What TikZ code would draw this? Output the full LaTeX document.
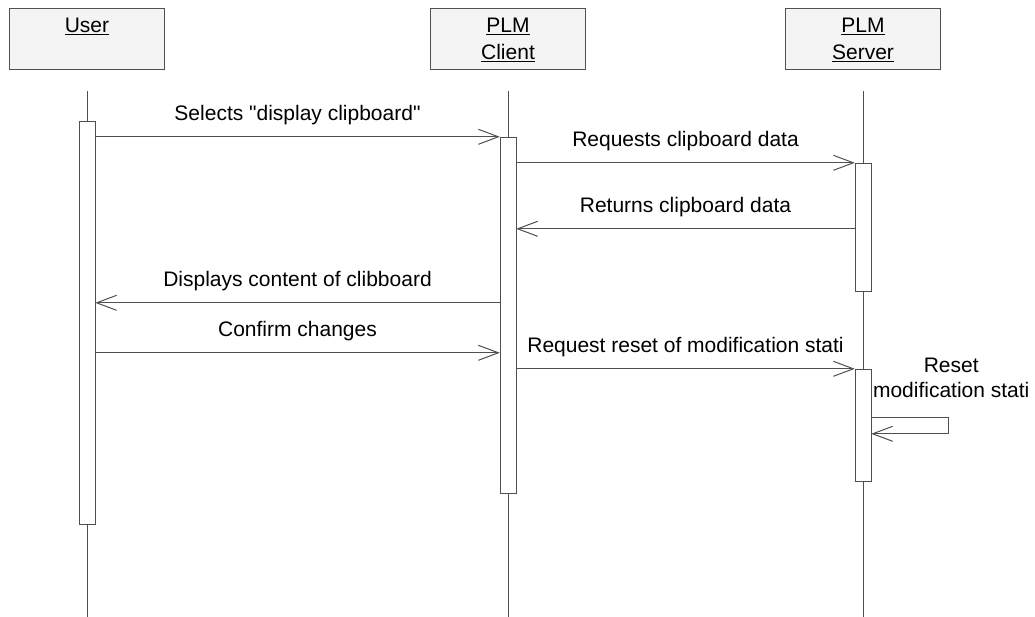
\documentclass[tikz,border=0pt]{standalone}
\usepackage{fontspec}
\setmainfont{Liberation Sans}
\usepackage{xcolor}
\usepackage{tikz}
\usetikzlibrary{calc}
\usetikzlibrary{backgrounds}
\usetikzlibrary{arrows.meta}
\definecolor{umlline}{HTML}{505050}
\definecolor{umlhead}{HTML}{F4F4F4}

\begin{document}
\begin{tikzpicture}[x=1pt, y=-1pt, font=\fontsize{21}{27}\selectfont]
        \tikzstyle{head} = [rectangle, draw=umlline, fill=umlhead, minimum width=155pt, minimum height=61pt, inner sep=0pt]
        \tikzstyle{act} = [rectangle, draw=umlline, fill=white, minimum width=16pt, inner sep=0pt]
        \tikzstyle{msg} = [draw=umlline, line width=1pt, -{Straight Barb[length=20pt, width=15pt]}]
        \tikzstyle{lbl} = [anchor=base, inner sep=0pt, yshift=16pt]
        \useasboundingbox (0,0) rectangle (1035,617);
        \foreach \n/\x/\t in {user/87/{\underline{User}}, client/508/{\underline{PLM}\\\underline{Client}}, server/863/{\underline{PLM}\\\underline{Server}}}
        {
                \node[head] (\n) at (\x, 38.5) {};
                \node[anchor=north, align=center, inner sep=0pt] (\n l) at ($(\n.north) + (0, 10.5)$) {\t};
                \coordinate (\n t) at (\x, 91);
                \coordinate (\n b) at (\x, 617);
                \begin{scope}[on background layer]
                \draw[umlline, line width=1pt] (\n t) -- (\n b);
                \end{scope}
        }

        \node[act, minimum height=403pt] (ua) at (87, 322.5) {};
        \node[act, minimum height=356pt] (ca) at (508, 315) {};
        \node[act, minimum height=128pt] (sa) at (863, 227) {};
        \node[act, minimum height=112pt] (sb) at (863, 425) {};

        \draw[msg] ($(ua.north east) + (0, 16)$) -- node[lbl] {Selects \textquotedbl display clipboard\textquotedbl} (ca.north west);
        \draw[msg] ($(ca.north east) + (0, 26)$) -- node[lbl] {Requests clipboard data} (sa.north west);
        \draw[msg] ($(sa.north west) + (0, 66)$) -- node[lbl] {Returns clipboard data} ($(ca.north east) + (0, 92)$);
        \draw[msg] ($(ca.north west) + (0, 166)$) -- node[lbl] {Displays content of clibboard} ($(ua.north east) + (0, 182)$);
        \draw[msg] ($(ua.north east) + (0, 232)$) -- node[lbl] {Confirm changes} ($(ca.north west) + (0, 216)$);
        \draw[msg] ($(ca.north east) + (0, 232)$) -- node[lbl] {Request reset of modification stati} (sb.north west);
        \draw[msg] ($(sb.north east) + (0, 49)$) -- ++(77, 0) -- ++(0, 16) -- ($(sb.north east) + (0, 65)$);
        \node[anchor=base, align=center, inner sep=0pt] (resetl) at ($(sb.north east) + (80, 29)$) {Reset\\[-2pt]modification stati};
\end{tikzpicture}
\end{document}
